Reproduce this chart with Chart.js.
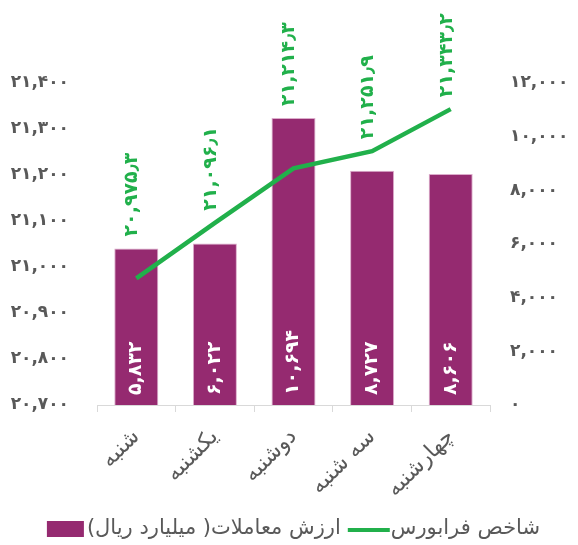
<!DOCTYPE html>
<html lang="fa">
<head>
<meta charset="utf-8">
<script src="https://cdn.jsdelivr.net/npm/chart.js@4/dist/chart.umd.min.js"></script>
<style>
  html, body { margin: 0; padding: 0; background: #ffffff; }
  #wrap { width: 578px; height: 545px; }
</style>
</head>
<body>
<div id="wrap"><canvas id="c" width="578" height="545"></canvas></div>
<script>
// Weekdays of the trading week
const days = ['شنبه', 'یکشنبه', 'دوشنبه', 'سه شنبه', 'چهارشنبه'];
// Trading value (billion rials) – bars, right axis
const tradeValue = [5832, 6022, 10694, 8727, 8606];
// Farabourse index – line, left axis
const indexValue = [20975.3, 21096.1, 21214.3, 21251.9, 21343.2];

const seriesNames = ['ارزش معاملات( میلیارد ریال)', 'شاخص فرابورس'];

const BAR_COLOR = '#952a70';
const BAR_EDGE = '#dcaccb';
const LINE_COLOR = '#21b04b';
const TEXT_GRAY = '#595959';
const AXIS_GRAY = '#d9d9d9';
const FONT = "'DejaVu Sans', sans-serif";

const faDigits = '۰۱۲۳۴۵۶۷۸۹';
function fa(str) {
  return String(str).replace(/\d/g, d => faDigits[d]);
}
function fmtInt(v) {
  return fa(Math.round(v).toLocaleString('en-US'));
}
function fmtDec(v) {
  const [i, d] = v.toFixed(1).split('.');
  return fa(Number(i).toLocaleString('en-US')) + '٫' + fa(d);
}

// Rotated value labels: white at the base of each bar, green above each index point
const valueLabels = {
  id: 'valueLabels',
  afterDatasetsDraw(chart) {
    const ctx = chart.ctx;
    const barMeta = chart.getDatasetMeta(1);
    const lineMeta = chart.getDatasetMeta(0);
    ctx.save();
    ctx.textAlign = 'left';
    ctx.textBaseline = 'middle';
    ctx.font = `bold 19px ${FONT}`;
    barMeta.data.forEach((bar, i) => {
      ctx.save();
      ctx.translate(bar.x, bar.base - 10);
      ctx.rotate(-Math.PI / 2);
      ctx.fillStyle = '#ffffff';
      ctx.fillText(fmtInt(tradeValue[i]), 0, 0);
      ctx.restore();
    });
    lineMeta.data.forEach((pt, i) => {
      const bar = barMeta.data[i];
      const top = Math.min(pt.y, bar.y) - 12;
      ctx.save();
      ctx.translate(pt.x - 4, top);
      ctx.rotate(-Math.PI / 2);
      ctx.fillStyle = LINE_COLOR;
      ctx.fillText(fmtDec(indexValue[i]), 0, 0);
      ctx.restore();
    });
    ctx.restore();
  }
};

// Legend row under the chart: swatch + name for each series
const bottomLegend = {
  id: 'bottomLegend',
  afterDraw(chart) {
    const ctx = chart.ctx;
    const area = chart.chartArea;
    ctx.save();
    ctx.font = `21px ${FONT}`;
    ctx.direction = 'rtl';
    ctx.textAlign = 'left';
    ctx.textBaseline = 'middle';
    const w1 = ctx.measureText(seriesNames[0]).width;
    const w2 = ctx.measureText(seriesNames[1]).width;
    const boxW = 37, boxH = 16, lineW = 42;
    const total = boxW + 3 + w1 + 7 + lineW + 1 + w2;
    let x = (area.left + area.right) / 2 - total / 2;
    const cy = 529;
    ctx.fillStyle = BAR_COLOR;
    ctx.fillRect(x, cy - boxH / 2, boxW, boxH);
    x += boxW + 3;
    ctx.fillStyle = TEXT_GRAY;
    ctx.fillText(seriesNames[0], x, cy);
    x += w1 + 7;
    ctx.strokeStyle = LINE_COLOR;
    ctx.lineWidth = 4;
    ctx.beginPath();
    ctx.moveTo(x, cy + 1);
    ctx.lineTo(x + lineW, cy + 1);
    ctx.stroke();
    x += lineW + 1;
    ctx.fillStyle = TEXT_GRAY;
    ctx.fillText(seriesNames[1], x, cy);
    ctx.restore();
  }
};

new Chart(document.getElementById('c'), {
  data: {
    labels: days,
    datasets: [
      {
        type: 'line',
        label: seriesNames[1],
        data: indexValue,
        yAxisID: 'yIndex',
        borderColor: LINE_COLOR,
        backgroundColor: LINE_COLOR,
        borderWidth: 4.5,
        pointRadius: 0,
        tension: 0,
        order: 0
      },
      {
        type: 'bar',
        label: seriesNames[0],
        data: tradeValue,
        yAxisID: 'yValue',
        backgroundColor: BAR_COLOR,
        borderColor: BAR_EDGE,
        borderWidth: 1,
        barPercentage: 0.56,
        categoryPercentage: 1,
        order: 1
      }
    ]
  },
  options: {
    responsive: false,
    animation: false,
    layout: { padding: { top: 83, bottom: 40, left: 0, right: 0 } },
    plugins: {
      legend: { display: false },
      tooltip: { enabled: false }
    },
    scales: {
      x: {
        offset: true,
        grid: {
          offset: true,
          drawOnChartArea: false,
          drawTicks: true,
          tickLength: 7,
          color: AXIS_GRAY
        },
        border: { display: true, color: AXIS_GRAY },
        ticks: {
          minRotation: 45,
          maxRotation: 45,
          padding: 12,
          color: TEXT_GRAY,
          font: { family: FONT, size: 22 }
        },
        afterFit(scale) { scale.height = 100; }
      },
      yIndex: {
        position: 'left',
        min: 20700,
        max: 21400,
        grid: { display: false, drawTicks: false },
        border: { display: false },
        ticks: {
          stepSize: 100,
          padding: 28,
          color: TEXT_GRAY,
          font: { family: FONT, size: 17, weight: 'bold' },
          callback: v => fmtInt(v)
        },
        afterFit(scale) { scale.width = 97; }
      },
      yValue: {
        position: 'right',
        min: 0,
        max: 12000,
        grid: { display: false, drawTicks: false },
        border: { display: false },
        ticks: {
          stepSize: 2000,
          padding: 20,
          color: TEXT_GRAY,
          font: { family: FONT, size: 17, weight: 'bold' },
          callback: v => fmtInt(v)
        },
        afterFit(scale) { scale.width = 88; }
      }
    }
  },
  plugins: [valueLabels, bottomLegend]
});
</script>
</body>
</html>
